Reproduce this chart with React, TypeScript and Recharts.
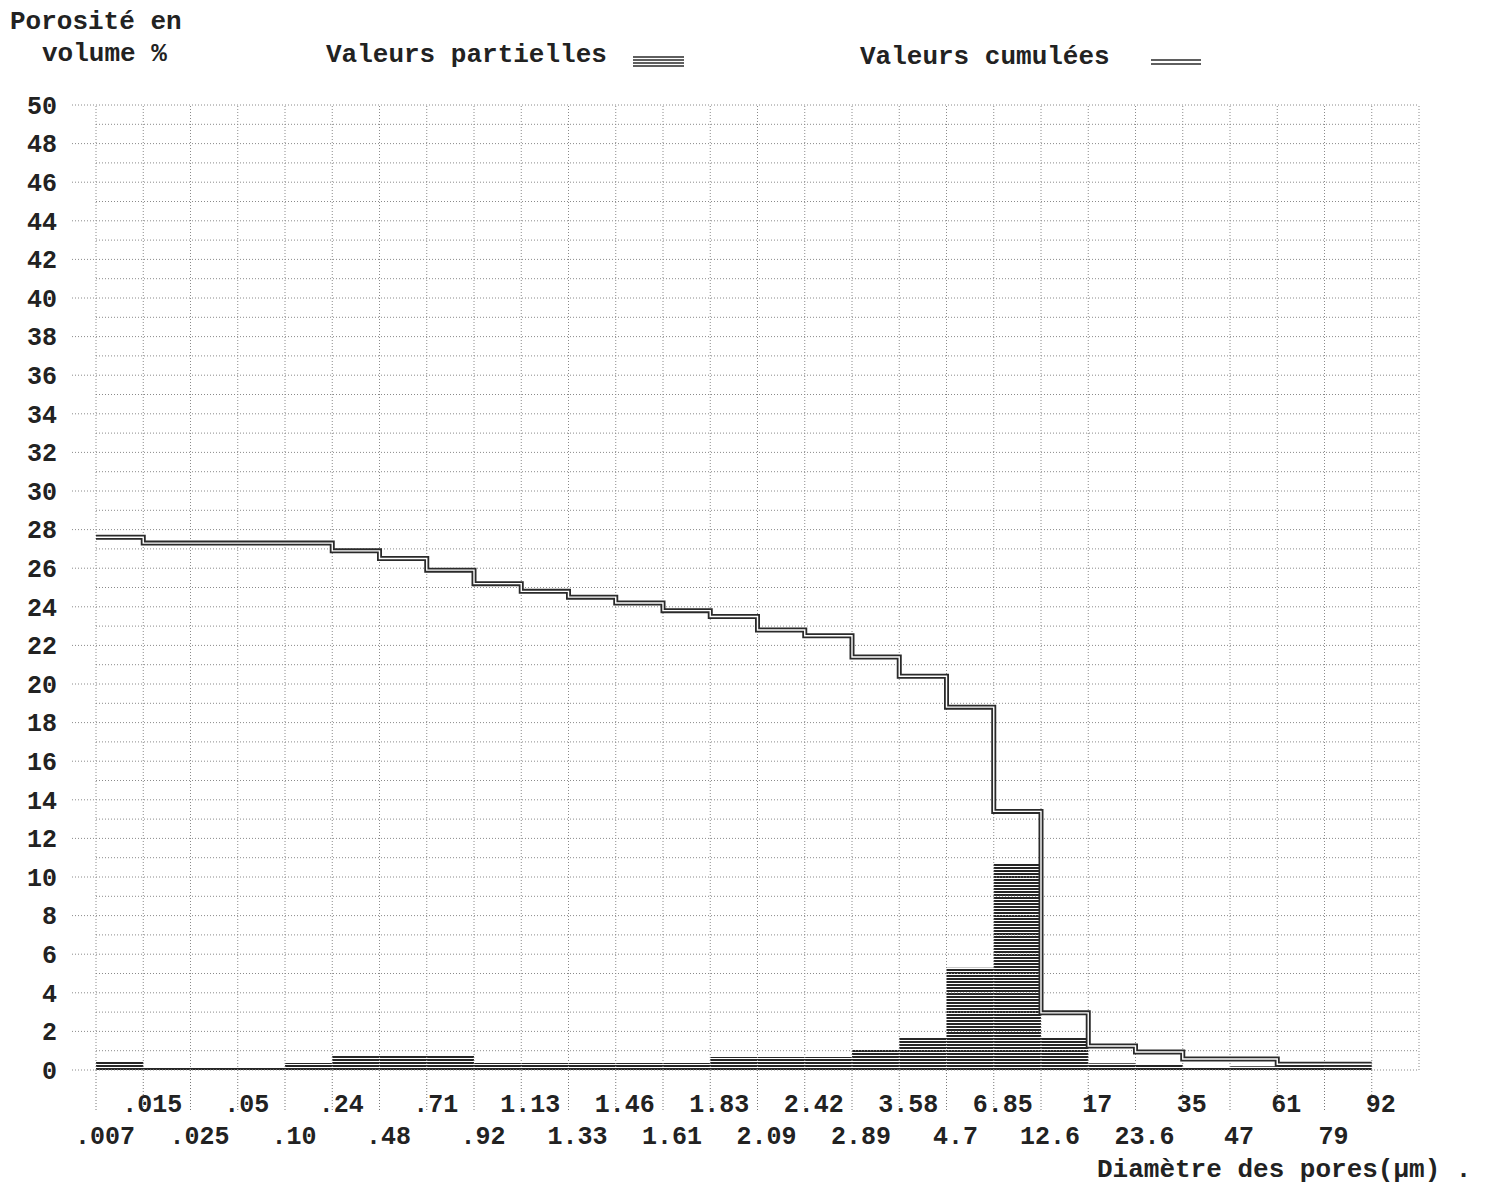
import React from 'react';
import { ComposedChart, Area, Line, XAxis, YAxis, ReferenceLine } from 'recharts';

// pore diameter class limits (µm), one label per class boundary
const poreLabels = [
  '.007', '.015', '.025', '.05', '.10', '.24', '.48', '.71', '.92', '1.13',
  '1.33', '1.46', '1.61', '1.83', '2.09', '2.42', '2.89', '3.58', '4.7', '6.85',
  '12.6', '17', '23.6', '35', '47', '61', '79', '92',
];

// porosity per class (%) - "Valeurs partielles"
const partialValues = [
  0.47, 0.12, 0.12, 0.12, 0.36, 0.73, 0.73, 0.73, 0.36, 0.36,
  0.36, 0.36, 0.36, 0.68, 0.68, 0.68, 1.04, 1.7, 5.3, 10.7,
  1.66, 0.35, 0.3, 0.1, 0.2, 0.25, 0.2,
];

// cumulated porosity (%) - "Valeurs cumulées"
const cumulativeValues = [
  27.6, 27.3, 27.3, 27.3, 27.3, 26.9, 26.5, 25.9, 25.2, 24.8,
  24.5, 24.2, 23.8, 23.5, 22.8, 22.5, 21.4, 20.4, 18.8, 13.4,
  2.96, 1.24, 0.93, 0.57, 0.57, 0.3, 0.3,
];

const yTicks = [0, 2, 4, 6, 8, 10, 12, 14, 16, 18, 20, 22, 24, 26, 28, 30, 32, 34, 36, 38, 40, 42, 44, 46, 48, 50];

const FONT = '"Liberation Mono", "DejaVu Sans Mono", monospace';
const INK = '#222';
const GRID = '#8a8a8a';

// one row per class boundary; the last row closes the final step
const rows = partialValues.map((p, i) => ({ pos: i, partial: p, cum: cumulativeValues[i] }));
rows.push({
  pos: partialValues.length,
  partial: partialValues[partialValues.length - 1],
  cum: cumulativeValues[cumulativeValues.length - 1],
});

const boundaryTicks = poreLabels.map((_, i) => i);
// dotted grid: every 1 % and every class boundary (+ the closing column)
const gridSteps = Array.from({ length: 51 }, (_, i) => i);
const gridCols = Array.from({ length: poreLabels.length + 1 }, (_, i) => i);

function PoreTick({ x, y, payload }: any) {
  const i = payload.value;
  const label = poreLabels[i];
  if (label === undefined) return null;
  // labels alternate between two rows
  const dy = i % 2 === 1 ? 2 : 34;
  return (
    <text
      x={x + 9}
      y={y + dy}
      textAnchor="middle"
      fontFamily={FONT}
      fontSize={25}
      fontWeight={700}
      fill={INK}
    >
      {label}
    </text>
  );
}

export default function App() {
  return (
    <div style={{ position: 'absolute', left: 0, top: 0, width: 1488, height: 1187, background: '#fff' }}>
      <ComposedChart
        width={1488}
        height={1187}
        data={rows}
        margin={{ top: 105, right: 69, bottom: 0, left: 0 }}
      >
        <defs>
          <pattern id="hatch" patternUnits="userSpaceOnUse" width={6} height={3}>
            <rect x={0} y={0} width={6} height={2} fill="#262626" />
          </pattern>
        </defs>
        <XAxis
          type="number"
          dataKey="pos"
          domain={[0, poreLabels.length]}
          ticks={boundaryTicks}
          interval={0}
          height={117}
          axisLine={false}
          tickSize={40}
          tickMargin={0}
          tickLine={{ stroke: '#777', strokeDasharray: '1 2' }}
          tick={<PoreTick />}
        />
        <YAxis
          type="number"
          domain={[0, 50]}
          ticks={yTicks}
          interval={0}
          width={96}
          axisLine={false}
          tickSize={24}
          tickMargin={15}
          tickLine={{ stroke: GRID, strokeDasharray: '1 2' }}
          tick={{ fontFamily: FONT, fontSize: 25, fontWeight: 700, fill: INK }}
        />
        {gridSteps.map((v) => (
          <ReferenceLine key={`h${v}`} y={v} stroke={GRID} strokeDasharray="1 2" />
        ))}
        {gridCols.map((v) => (
          <ReferenceLine key={`v${v}`} x={v} stroke={GRID} strokeDasharray="1 2" />
        ))}
        <Area
          type="stepAfter"
          dataKey="partial"
          stroke="none"
          fill="url(#hatch)"
          fillOpacity={1}
          isAnimationActive={false}
        />
        <Line
          type="stepAfter"
          dataKey="cum"
          stroke="#2a2a2a"
          strokeWidth={5}
          dot={false}
          isAnimationActive={false}
        />
        <Line
          type="stepAfter"
          dataKey="cum"
          stroke="#fff"
          strokeWidth={1.4}
          dot={false}
          isAnimationActive={false}
        />
      </ComposedChart>

      {/* titles and legend, typed over the chart */}
      <svg
        width={1488}
        height={1187}
        style={{ position: 'absolute', left: 0, top: 0, pointerEvents: 'none' }}
        fontFamily={FONT}
        fontWeight={700}
        fill={INK}
      >
        <text x={10} y={29} fontSize={26}>Porosité en</text>
        <text x={42} y={61} fontSize={26}>volume %</text>
        <text x={326} y={62} fontSize={26}>Valeurs partielles</text>
        <g stroke="#2a2a2a" strokeWidth={1.5}>
          <line x1={633} x2={684} y1={57} y2={57} />
          <line x1={633} x2={684} y1={60} y2={60} />
          <line x1={633} x2={684} y1={63} y2={63} />
          <line x1={633} x2={684} y1={66} y2={66} />
        </g>
        <text x={860} y={64} fontSize={26}>Valeurs cumulées</text>
        <g stroke="#2a2a2a" strokeWidth={1.6}>
          <line x1={1151} x2={1201} y1={60} y2={60} />
          <line x1={1151} x2={1201} y1={64} y2={64} />
        </g>
        <text x={1097} y={1177} fontSize={26}>Diamètre des pores(μm) .</text>
      </svg>
    </div>
  );
}
